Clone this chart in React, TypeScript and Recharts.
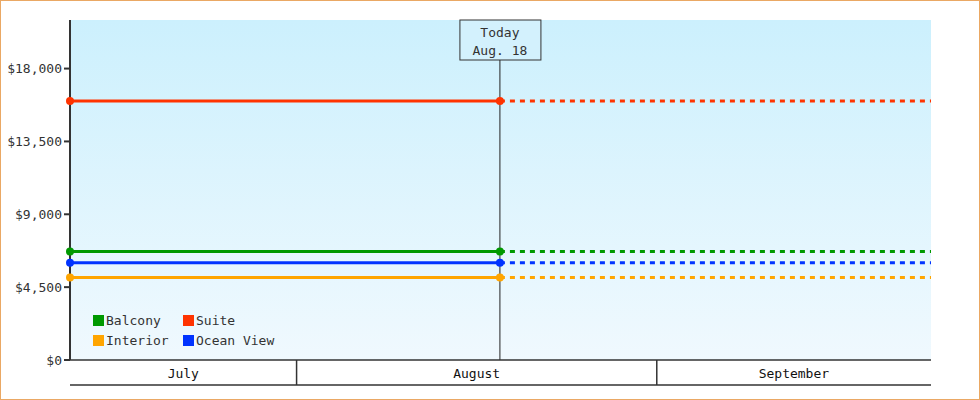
import React from "react";
import {
  LineChart,
  Line,
  XAxis,
  YAxis,
  CartesianGrid,
  ReferenceLine,
} from "recharts";

// cabin types and their current fares
const cabins = ["Balcony", "Suite", "Interior", "Ocean View"];
const fares = [6700, 16000, 5100, 6000];
const colors = ["#009900", "#ff3300", "#ffa500", "#0033ff"];

// x values are day numbers counted from July 1 (= 0)
const months = ["July", "August", "September"];
const monthStarts = [0, 31, 62, 92];
const firstDay = 11.5;
const today = 48.5;
const lastDay = 85.6;
const todayLabel = ["Today", "Aug. 18"];

const yTicks = [0, 4500, 9000, 13500, 18000];
const yMax = 21000;

const FONT = "'DejaVu Sans Mono', monospace";
const INK = "#333333";

const keyOf = (name: string) => name.replace(/\s/g, "");

const data = [firstDay, today, lastDay].map((day, i) => {
  const row: Record<string, number> = { day };
  cabins.forEach((c, j) => {
    if (i < 2) row[keyOf(c)] = fares[j];
    if (i > 0) row[keyOf(c) + "Proj"] = fares[j];
  });
  return row;
});

const boundaries = monthStarts.filter((d) => d > firstDay && d < lastDay);
const centers = months.map((_, i) => {
  const a = Math.max(monthStarts[i], firstDay);
  const b = Math.min(monthStarts[i + 1], lastDay);
  return (a + b) / 2;
});
const xTicks = [...boundaries, ...centers].sort((a, b) => a - b);

function MonthTick(props: any) {
  const { x, y, payload } = props;
  const v = payload.value;
  if (boundaries.includes(v)) {
    return <line x1={x} x2={x} y1={y} y2={y + 25} stroke={INK} strokeWidth={1.5} />;
  }
  const idx = centers.indexOf(v);
  return (
    <text x={x} y={y + 18} textAnchor="middle" fill="#111" fontSize={13} fontFamily={FONT}>
      {months[idx]}
    </text>
  );
}

function TodayLabel(props: any) {
  const { viewBox } = props;
  const cx = viewBox.x;
  const top = viewBox.y;
  return (
    <g>
      <rect x={cx - 40} y={top} width={81} height={40} fill="#d3f1fd" stroke={INK} strokeWidth={1} />
      <text x={cx} y={top + 17} textAnchor="middle" fill={INK} fontSize={13} fontFamily={FONT}>
        {todayLabel[0]}
      </text>
      <text x={cx} y={top + 35} textAnchor="middle" fill={INK} fontSize={13} fontFamily={FONT}>
        {todayLabel[1]}
      </text>
    </g>
  );
}

function LegendBox() {
  return (
    <div
      style={{
        position: "absolute",
        left: 93,
        top: 312,
        display: "grid",
        gridTemplateColumns: "90px 110px",
        rowGap: 3,
        fontFamily: FONT,
        fontSize: 13,
        color: INK,
      }}
    >
      {cabins.map((c, i) => (
        <div key={c} style={{ display: "flex", alignItems: "center", height: 17 }}>
          <span
            style={{ width: 11, height: 11, background: colors[i], marginRight: 2, display: "inline-block" }}
          />
          {c}
        </div>
      ))}
    </div>
  );
}

export default function App() {
  return (
    <div style={{ position: "relative", width: 980, height: 400, background: "#fff" }}>
      <style>{`body{margin:0}`}</style>
      <LineChart
        width={980}
        height={400}
        data={data}
        margin={{ top: 20, right: 49, bottom: 14, left: 0 }}
      >
        <defs>
          <linearGradient id="plotBg" x1="0" y1="0" x2="0" y2="1">
            <stop offset="0%" stopColor="#ccf0fd" />
            <stop offset="100%" stopColor="#f0f9fe" />
          </linearGradient>
        </defs>
        <CartesianGrid fill="url(#plotBg)" horizontal={false} vertical={false} />
        <XAxis
          dataKey="day"
          type="number"
          domain={[firstDay, lastDay]}
          ticks={xTicks}
          interval={0}
          height={25}
          tickSize={0}
          tickMargin={0}
          tickLine={false}
          tick={<MonthTick />}
          axisLine={{ stroke: INK, strokeWidth: 1.5 }}
        />
        <XAxis
          xAxisId="base"
          dataKey="day"
          type="number"
          domain={[firstDay, lastDay]}
          height={1}
          tick={false}
          tickLine={false}
          axisLine={{ stroke: INK, strokeWidth: 1.5 }}
        />
        <YAxis
          width={70}
          domain={[0, yMax]}
          ticks={yTicks}
          interval={0}
          tickSize={6}
          tickMargin={2}
          axisLine={{ stroke: INK, strokeWidth: 2 }}
          tickLine={{ stroke: INK, strokeWidth: 2 }}
          tick={{ fill: INK, fontSize: 13, fontFamily: FONT }}
          tickFormatter={(v: number) => `$${v.toLocaleString("en-US")}`}
        />
        <ReferenceLine
          x={today}
          stroke="#222"
          strokeWidth={1}
          label={<TodayLabel />}
          ifOverflow="visible"
        />
        {cabins.map((c, i) => (
          <Line
            key={c}
            dataKey={keyOf(c)}
            stroke={colors[i]}
            strokeWidth={3}
            dot={{ r: 4, fill: colors[i], stroke: colors[i], strokeWidth: 0 }}
            activeDot={false}
            isAnimationActive={false}
          />
        ))}
        {cabins.map((c, i) => (
          <Line
            key={c + "p"}
            xAxisId="base"
            dataKey={keyOf(c) + "Proj"}
            stroke={colors[i]}
            strokeWidth={3}
            strokeDasharray="5 5"
            dot={false}
            activeDot={false}
            isAnimationActive={false}
          />
        ))}
      </LineChart>
      <LegendBox />
      <div
        style={{
          position: "absolute",
          inset: 0,
          border: "1px solid #eaa864",
          pointerEvents: "none",
        }}
      />
    </div>
  );
}
